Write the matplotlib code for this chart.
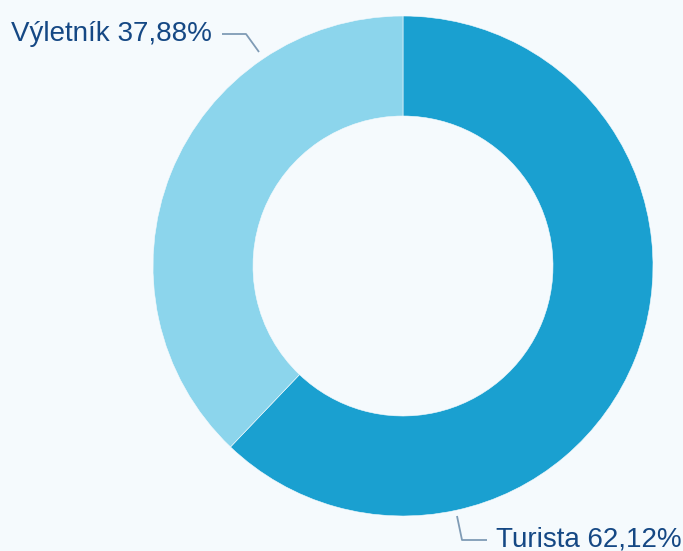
import matplotlib
matplotlib.use("Agg")
import matplotlib.pyplot as plt

labels = ["Turista", "Výletník"]
shares = [62.12, 37.88]
colors = ["#1aa0d0", "#8cd5ec"]

BG = "#f5fafd"
TEXT = "#154884"
LEADER = "#7f9bb5"

plt.rcParams["font.family"] = ["Liberation Sans", "DejaVu Sans"]

fig = plt.figure(figsize=(6.83, 5.51), dpi=100, facecolor=BG)
ax = fig.add_axes([0, 0, 1, 1])
ax.set_facecolor(BG)

# donut, drawn in pixel coordinates of the canvas
cx, cy, r_out, r_in = 403, 285, 250, 150
ax.pie(shares, colors=colors, startangle=90, counterclock=False,
       center=(cx, cy), radius=r_out, frame=True,
       wedgeprops=dict(width=r_out - r_in, edgecolor=BG, linewidth=0.4))
ax.set_xlim(0, 683)
ax.set_ylim(0, 551)
ax.axis("off")


def fmt(name, v):
    return f"{name} {v:.2f}%".replace(".", ",")


# leader lines and labels
ax.plot([222, 246, 259], [517, 517, 499], color=LEADER, lw=1.3,
        solid_capstyle="butt")
ax.text(212, 517, fmt(labels[1], shares[1]), ha="right", va="center",
        fontsize=20, color=TEXT)

ax.plot([457, 462, 487], [35, 11, 11], color=LEADER, lw=1.3,
        solid_capstyle="butt")
ax.text(496, 12, fmt(labels[0], shares[0]), ha="left", va="center",
        fontsize=20, color=TEXT)

fig.savefig("out.png", dpi=100, facecolor=BG)
